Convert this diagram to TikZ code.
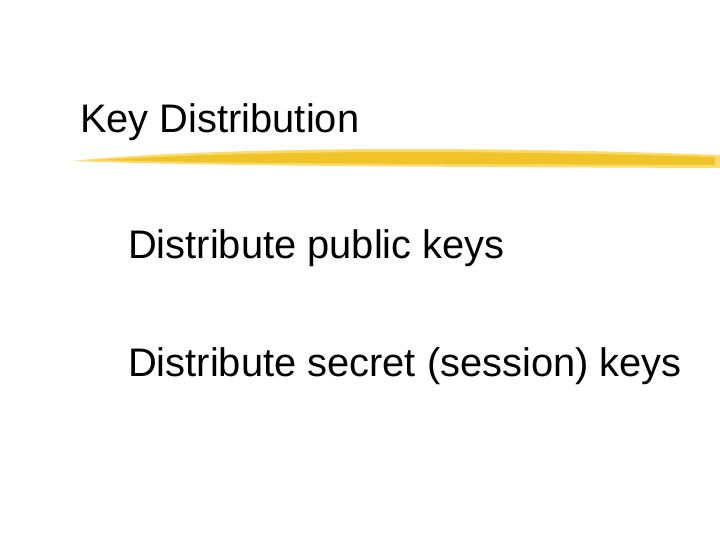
\documentclass[tikz,border=0pt]{standalone}
\usepackage{fontspec}
\setmainfont{Liberation Sans}
\definecolor{brush}{RGB}{240,196,40}
\definecolor{brushlight}{RGB}{250,220,110}
\tikzset{title/.style={anchor=base west,font=\fontsize{40}{44}\selectfont,inner sep=0pt},
item/.style={anchor=base west,font=\fontsize{40}{44}\selectfont,inner sep=0pt}}
\begin{document}
\begin{tikzpicture}[x=1bp,y=-1bp]
\useasboundingbox (0,0) rectangle (720,540);
\fill[white] (0,0) rectangle (720,540);
\fill[brushlight] (72,161) .. controls (200,148) and (450,145) .. (720,155) -- (720,168) .. controls (450,167) and (200,166) .. (72,161) -- cycle;
\fill[brush] (100,160) .. controls (250,151) and (450,149) .. (715,157) -- (715,165) .. controls (450,164) and (250,164) .. (100,160) -- cycle;
\node[title] (t) at (80,133) {Key Distribution};
\node[item] (a) at (128,259) {Distribute public keys};
\node[item] (b) at (128,376) {Distribute secret (session) keys};
\end{tikzpicture}
\end{document}
